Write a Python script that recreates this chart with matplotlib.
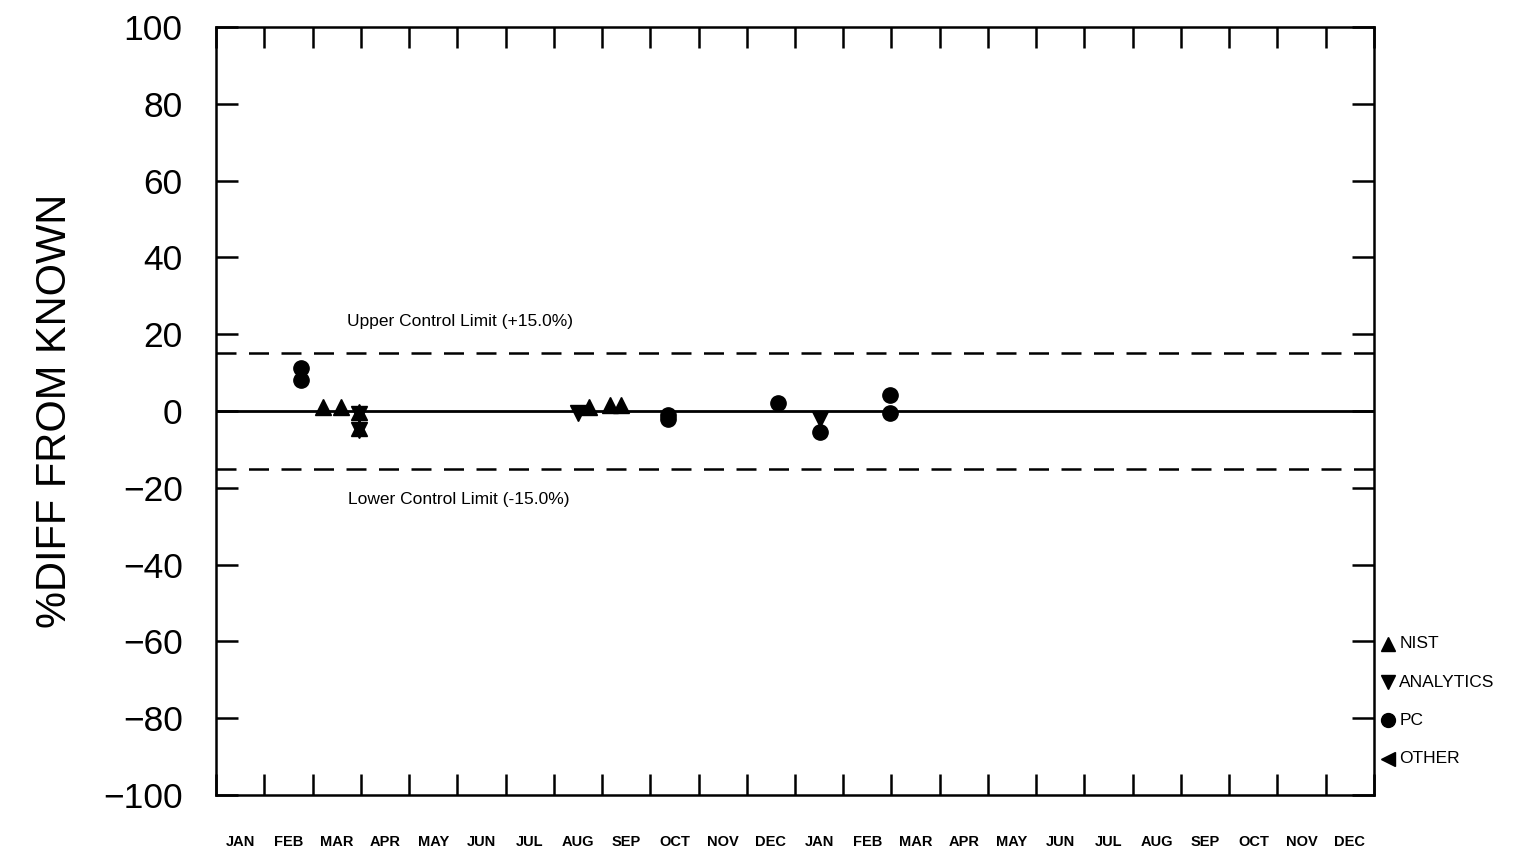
import matplotlib
matplotlib.use("Agg")
import matplotlib.pyplot as plt
import matplotlib.transforms as mtransforms
import numpy as np

# Month labels over a two-year span
months = ["JAN", "FEB", "MAR", "APR", "MAY", "JUN", "JUL", "AUG", "SEP", "OCT", "NOV", "DEC"] * 2

# Sample results: position in months from the start of the first January, and %difference
nist_x = [2.22, 2.59, 2.96, 2.96, 7.73, 8.17, 8.39]
nist_y = [1.0, 1.0, -0.3, -4.4, 1.0, 1.5, 1.5]
analytics_x = [2.96, 2.96, 7.50, 12.52]
analytics_y = [-0.8, -5.0, -0.5, -2.0]
pc_x = [1.76, 1.76, 9.37, 9.37, 11.65, 12.52, 13.97, 13.97]
pc_y = [11.2, 8.1, -1.0, -2.2, 2.0, -5.5, 4.2, -0.5]
other_x = []
other_y = []

upper_limit = 15.0
lower_limit = -15.0
y_ticks = [100, 80, 60, 40, 20, 0, -20, -40, -60, -80, -100]

legend_names = ["NIST", "ANALYTICS", "PC", "OTHER"]
legend_levels = [-60, -70, -80, -90]
legend_markers = ["^", "v", "o", "<"]

plt.rcParams["font.family"] = ["Liberation Sans", "DejaVu Sans"]

fig = plt.figure(figsize=(15.15, 8.56), dpi=100)
ax = fig.add_axes([0.1426, 0.0713, 0.9069 - 0.1426, 0.9685 - 0.0713])

n_months = len(months)
ax.set_xlim(0, n_months)
ax.set_ylim(-100, 100)

# Reference and control limit lines
ax.axhline(0, color="black", lw=2.0, zorder=2)
ax.axhline(upper_limit, color="black", lw=1.8, ls=(0, (8, 5)), zorder=2)
ax.axhline(lower_limit, color="black", lw=1.8, ls=(0, (8, 5)), zorder=2)

ax.text(2.72, 23.4, f"Upper Control Limit (+{upper_limit:.1f}%)", fontsize=12.5,
        ha="left", va="center")
ax.text(2.74, -23.0, f"Lower Control Limit ({lower_limit:.1f}%)", fontsize=12.5,
        ha="left", va="center")

# Data points
ax.plot(nist_x, nist_y, ls="none", marker="^", ms=11, color="black", zorder=3)
ax.plot(analytics_x, analytics_y, ls="none", marker="v", ms=11, color="black", zorder=3)
ax.plot(pc_x, pc_y, ls="none", marker="o", ms=11, color="black", zorder=3)
ax.plot(other_x, other_y, ls="none", marker="<", ms=11, color="black", zorder=3)

# Axes frame and ticks
for sp in ax.spines.values():
    sp.set_linewidth(1.8)

ax.set_xticks(np.arange(0, n_months + 1))
ax.set_xticklabels([])
ax.set_xticks(np.arange(n_months) + 0.5, minor=True)
ax.set_xticklabels(months, minor=True, fontsize=10.5, fontweight="bold")
ax.tick_params(axis="x", which="major", direction="in", length=15, width=1.8,
               top=True, bottom=True)
ax.tick_params(axis="x", which="minor", length=0, pad=29)

ax.set_yticks(y_ticks)
ax.set_yticklabels([str(v).replace("-", "\u2212") for v in y_ticks], fontsize=25.5)
ax.tick_params(axis="y", direction="in", length=16, width=1.8, left=True, right=True, pad=24)

ax.set_ylabel("%DIFF FROM KNOWN", fontsize=30, labelpad=20)

# Legend placed along the right edge, aligned with the y scale
trans = mtransforms.blended_transform_factory(ax.transAxes, ax.transData)
for name, level, mk in zip(legend_names, legend_levels, legend_markers):
    ax.plot([1.0125], [level - 0.6], marker=mk, ms=10, color="black", ls="none",
            transform=trans, clip_on=False)
    ax.text(1.022, level - 0.6, name, transform=trans, fontsize=12.5,
            ha="left", va="center")

fig.savefig("out.png", dpi=100)
